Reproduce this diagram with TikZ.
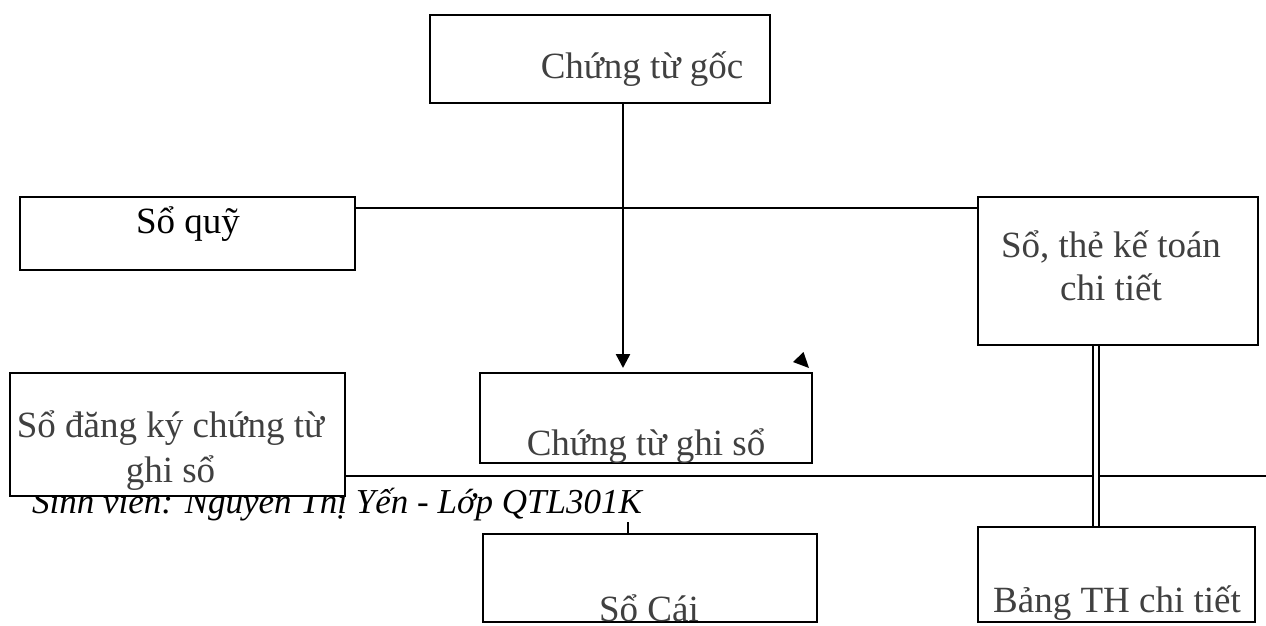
\documentclass[tikz,border=0pt]{standalone}
\usepackage{fontspec}
\setmainfont{Liberation Serif}
\usetikzlibrary{arrows.meta,calc}
\definecolor{boxtext}{RGB}{64,64,64}
\tikzset{
  stage/.style={draw=black, line width=2pt, fill=white, rectangle, inner sep=0pt},
  caption/.style={anchor=base, inner sep=0pt, text=boxtext, font=\fontsize{37}{44}\selectfont},
  link/.style={line width=2pt},
  flow/.style={line width=2.5pt, shorten >=4pt, -{Triangle[length=14pt,width=14pt]}},
}
\begin{document}
\begin{tikzpicture}[x=1pt,y=-1pt]
\useasboundingbox (0,0) rectangle (1266,625);
\clip (0,0) rectangle (1266,625);

% footer rule and author line (partly hidden by the register box)
\coordinate (ruleend) at (1266,476);
\node[anchor=base west, inner sep=0pt, font=\fontsize{35}{42}\selectfont\itshape] (author) at (32,513)
  {Sinh viên: Nguyễn Thị Yến - Lớp QTL301K};

% boxes
\node[stage, minimum width=340pt, minimum height=88pt] (goc) at (600,59) {};
\node[stage, minimum width=335pt, minimum height=73pt] (quy) at (187.5,233.5) {};
\node[stage, minimum width=280pt, minimum height=148pt] (chitiet) at (1118,271) {};
\node[stage, minimum width=332pt, minimum height=90pt] (ctgs) at (646,418) {};
\node[stage, minimum width=335pt, minimum height=123pt] (dangky) at (177.5,434.5) {};
\node[stage, minimum width=334pt, minimum height=88pt] (socai) at (650,578) {};
\node[stage, minimum width=277pt, minimum height=95pt] (bangth) at (1116.5,574.5) {};

% footer rule starts at the register box
\draw[link] (dangky.east |- ruleend) -- (ruleend);

% captions
\node[caption] (tgoc) at (642,78) {Chứng từ gốc};
\node[caption, text=black] (tquy) at (188,233) {Sổ quỹ};
\node[caption] (tct1) at (1111,257) {Sổ, thẻ kế toán};
\node[caption] (tct2) at (1111,300) {chi tiết};
\node[caption] (tctgs) at (646,455) {Chứng từ ghi sổ};
\node[caption] (tdk1) at (170.5,437) {Sổ đăng ký chứng từ};
\node[caption] (tdk2) at (170.5,482) {ghi sổ};
\begin{scope}
  \clip ([xshift=1pt,yshift=-1pt]socai.north west) rectangle ([xshift=-1pt,yshift=1pt]socai.south east);
  \node[caption] (tsc) at (649,621) {Sổ Cái};
\end{scope}
\node[caption] (tbth) at (1117,612) {Bảng TH chi tiết};

% connectors
\coordinate (trunk) at (623,0);
\draw[flow] (goc.south -| trunk) -- (ctgs.north -| trunk);
\draw[link] ($(quy.north east)+(0,12)$) -- ($(chitiet.north west)+(0,12)$);
\coordinate (dbl) at (1096,0);
\draw[line width=2pt, double=white, double distance=4pt] (chitiet.south -| dbl) -- (bangth.north -| dbl);
\coordinate (tick) at (628,0);
\draw[line width=2pt] (socai.north -| tick) -- ++(0,-11);

% stray arrowhead above the voucher box
\fill ($(ctgs.north east)+(-9.5,-20)$) -- ($(ctgs.north east)+(-20,-10)$) -- ($(ctgs.north east)+(-4,-4)$) -- cycle;
\end{tikzpicture}
\end{document}
